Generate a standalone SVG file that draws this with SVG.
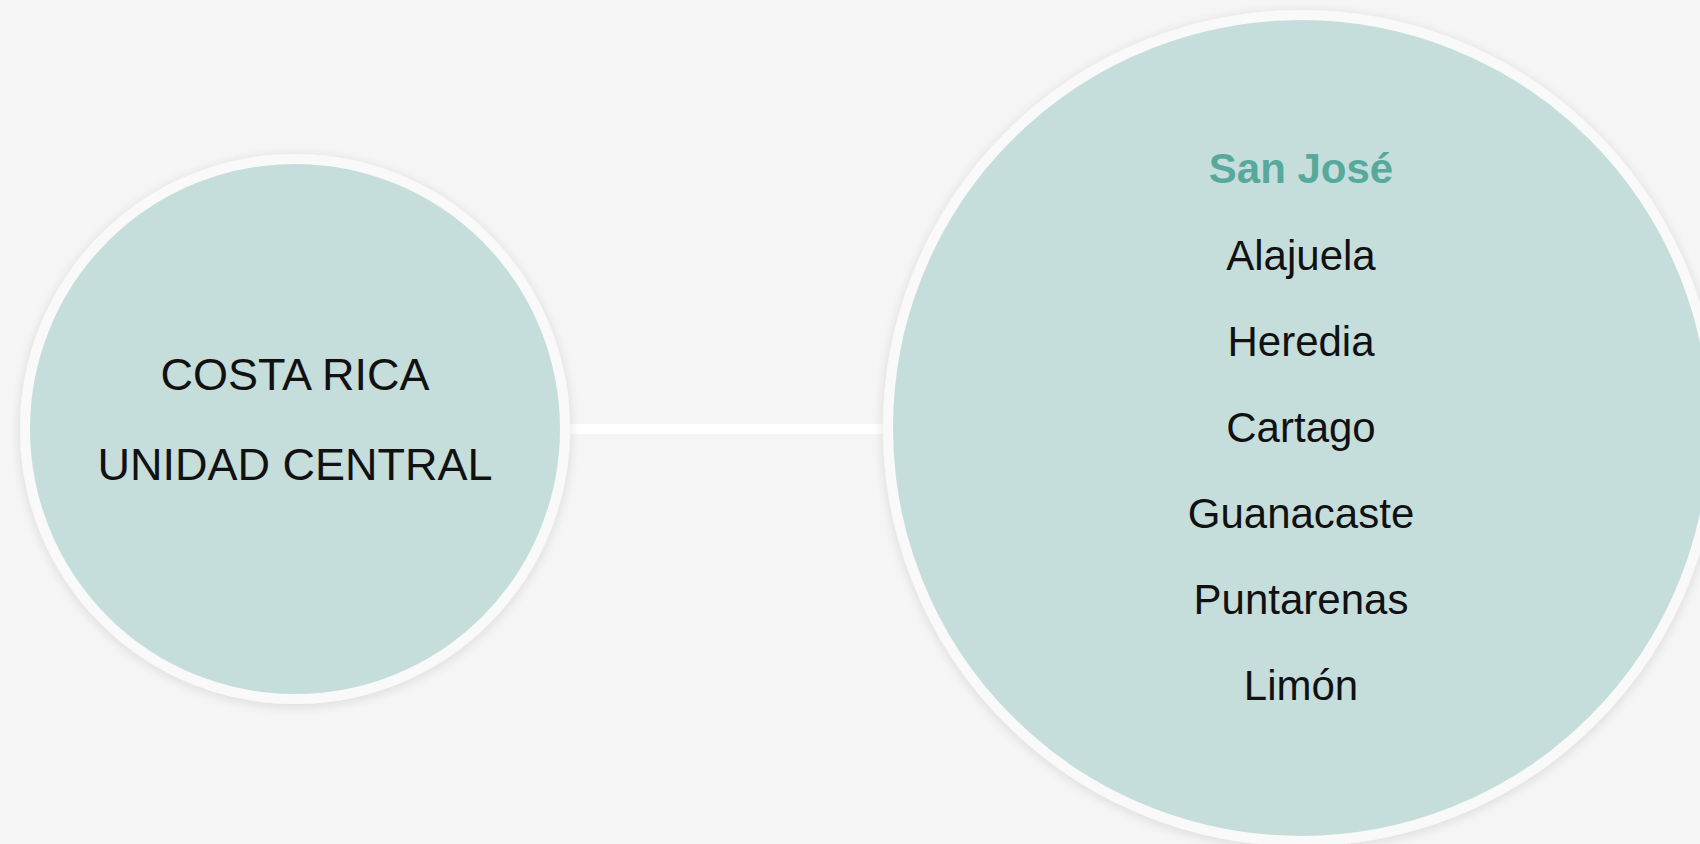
<svg xmlns="http://www.w3.org/2000/svg" width="1700" height="844" viewBox="0 0 1700 844">
  <defs>
    <filter id="shadow" x="-10%" y="-10%" width="120%" height="120%">
      <feGaussianBlur in="SourceAlpha" stdDeviation="6"/>
      <feOffset dx="0" dy="2" result="b"/>
      <feComponentTransfer><feFuncA type="linear" slope="0.12"/></feComponentTransfer>
      <feMerge><feMergeNode/><feMergeNode in="SourceGraphic"/></feMerge>
    </filter>
  </defs>
  <style>
    .bubble { fill: #c6dedb; stroke: #f9f9f9; stroke-width: 10; }
    .conn { stroke: #ffffff; stroke-width: 10; fill: none; }
    .lbl { font-family: "Liberation Sans", Arial, sans-serif; fill: #111111; text-anchor: middle; }
    .head { font-family: "Liberation Sans", Arial, sans-serif; font-weight: bold; fill: #57a99c; text-anchor: middle; }
  </style>
  <rect width="1700" height="844" fill="#f5f5f5"/>
  <g id="connectors">
    <line class="conn" x1="563" y1="429" x2="888" y2="429"/>
  </g>
  <g id="node-costa-rica">
    <circle class="bubble" cx="295" cy="429" r="270" filter="url(#shadow)"/>
    <text class="lbl" x="295" y="390" font-size="45">COSTA RICA</text>
    <text class="lbl" x="295" y="480" font-size="45">UNIDAD CENTRAL</text>
  </g>
  <g id="node-provincias">
    <circle class="bubble" cx="1301" cy="428" r="413" filter="url(#shadow)"/>
    <text class="head" x="1301" y="183" font-size="42">San José</text>
    <text class="lbl" x="1301" y="270" font-size="42">Alajuela</text>
    <text class="lbl" x="1301" y="356" font-size="42">Heredia</text>
    <text class="lbl" x="1301" y="442" font-size="42">Cartago</text>
    <text class="lbl" x="1301" y="528" font-size="42">Guanacaste</text>
    <text class="lbl" x="1301" y="614" font-size="42">Puntarenas</text>
    <text class="lbl" x="1301" y="700" font-size="42">Limón</text>
  </g>
</svg>
